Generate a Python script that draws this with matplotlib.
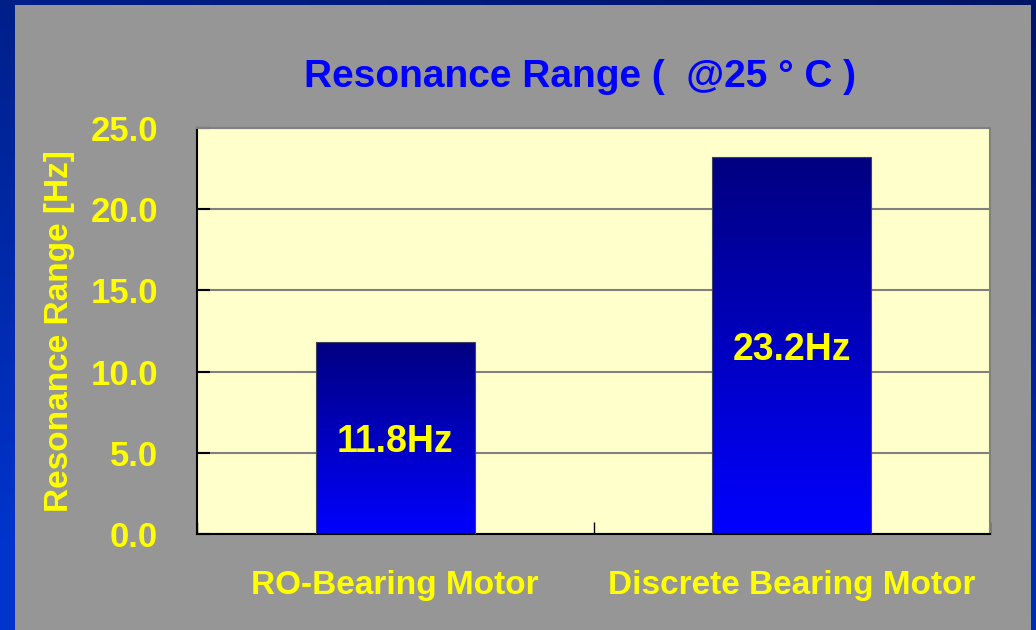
import numpy as np
import matplotlib
matplotlib.use('Agg')
import matplotlib.pyplot as plt
from matplotlib.colors import LinearSegmentedColormap
from matplotlib.patches import Rectangle
from matplotlib.ticker import FormatStrFormatter

plt.rcParams['font.family'] = ['Liberation Sans', 'DejaVu Sans']
plt.rcParams['font.weight'] = 'bold'

categories = ['RO-Bearing Motor', 'Discrete Bearing Motor']
values = [11.8, 23.2]
bar_labels = ['11.8Hz', '23.2Hz']
yticks = [0, 5, 10, 15, 20, 25]

yellow = '#FFFF00'

fig = plt.figure(figsize=(10.36, 6.3), dpi=100)

# slide background: blue gradient + gray panel
bg = fig.add_axes([0, 0, 1, 1], zorder=0)
bg.set_axis_off()
gx, gy = np.meshgrid(np.linspace(0, 1, 64), np.linspace(0, 1, 64))
t = np.clip(0.75 * gy + 0.35 * (1 - gx), 0, 1)  # gy=0 top row
bg_cmap = LinearSegmentedColormap.from_list('bgc', ['#001466', '#0034cc'])
bg.imshow(t, cmap=bg_cmap, extent=[0, 1, 0, 1], aspect='auto', origin='upper')
bg.set_xlim(0, 1)
bg.set_ylim(0, 1)
bg.add_patch(Rectangle((15 / 1036, 0), (1031 - 15) / 1036, 1 - 5 / 630,
                       facecolor='#969696', edgecolor='none'))

ax = fig.add_axes([197 / 1036, 96 / 630, 793 / 1036, 406 / 630], zorder=1)
ax.set_facecolor('#FFFFCC')

x = np.arange(len(categories))
bars = ax.bar(x, values, width=0.40, color='none', edgecolor='#404060',
              linewidth=0.8, zorder=3)

bar_cmap = LinearSegmentedColormap.from_list('barc', ['#0000FF', '#000080'])
grad = np.linspace(0, 1, 256).reshape(-1, 1)
for b in bars:
    x0, y0 = b.get_x(), b.get_y()
    im = ax.imshow(grad, cmap=bar_cmap, origin='lower', aspect='auto',
                   extent=[x0, x0 + b.get_width(), y0, y0 + b.get_height()],
                   zorder=2)
    im.set_clip_path(b)

for xi, v, lab in zip(x, values, bar_labels):
    ax.text(xi, v / 2, lab, color=yellow, fontsize=27, fontweight='bold',
            ha='center', va='center_baseline', zorder=4)

ax.set_xlim(-0.5, 1.5)
ax.set_ylim(0, 25)
ax.set_yticks(yticks)
ax.yaxis.set_major_formatter(FormatStrFormatter('%.1f'))
ax.grid(axis='y', color='#808080', linewidth=1.5, zorder=1)
ax.set_axisbelow(True)

ax.set_xticks(x)
ax.set_xticklabels(categories)
ax.set_xticks([-0.5, 0.5, 1.5], minor=True)
ax.tick_params(axis='x', which='major', length=0, pad=26, labelsize=24,
               labelcolor=yellow)
ax.tick_params(axis='x', which='minor', direction='in', length=9, width=1,
               color='black')
ax.tick_params(axis='y', direction='in', length=9, width=1.5, pad=28,
               labelsize=25, labelcolor=yellow)
for lab in ax.get_xticklabels() + ax.get_yticklabels():
    lab.set_fontweight('bold')

ax.spines['left'].set_color('black')
ax.spines['bottom'].set_color('black')
ax.spines['left'].set_linewidth(1.5)
ax.spines['bottom'].set_linewidth(1.5)
ax.spines['top'].set_color('#808080')
ax.spines['right'].set_color('#808080')
ax.spines['top'].set_linewidth(1.5)
ax.spines['right'].set_linewidth(1.5)

fig.text(60 / 1036, 1 - 331 / 630, 'Resonance Range [Hz]', rotation=90,
         color=yellow, fontsize=24, fontweight='bold', ha='center',
         va='center')
fig.text(580 / 1036, 1 - 87 / 630, 'Resonance Range (  @25 \u00b0 C )',
         color='#0000FF', fontsize=28, fontweight='bold', ha='center',
         va='baseline')

fig.savefig('out.png', dpi=100)
